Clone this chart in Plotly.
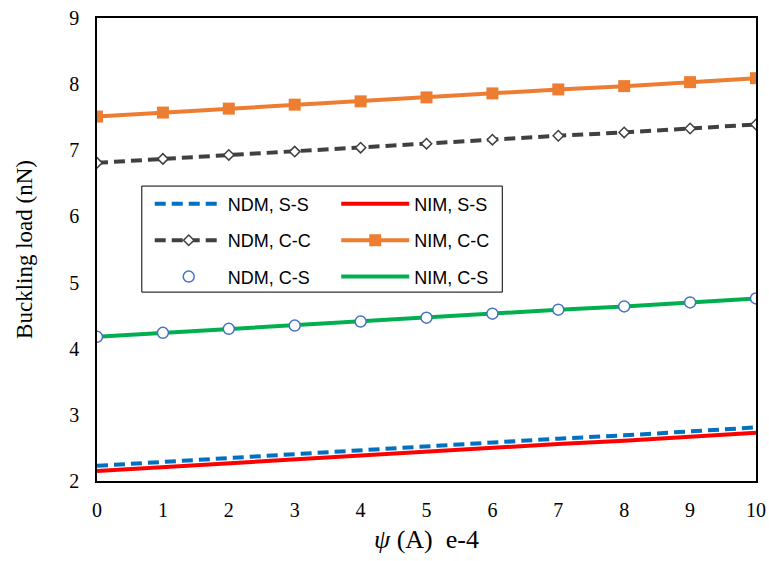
import plotly.graph_objects as go

psi = [0, 1, 2, 3, 4, 5, 6, 7, 8, 9, 10]

ndm_ss = [2.23, 2.29, 2.35, 2.40, 2.46, 2.52, 2.58, 2.64, 2.69, 2.75, 2.81]
nim_ss = [2.15, 2.21, 2.27, 2.32, 2.38, 2.44, 2.50, 2.56, 2.61, 2.67, 2.73]
ndm_cc = [6.81, 6.87, 6.93, 6.98, 7.04, 7.10, 7.16, 7.22, 7.27, 7.33, 7.39]
nim_cc = [7.51, 7.57, 7.63, 7.69, 7.74, 7.80, 7.86, 7.92, 7.97, 8.03, 8.09]
ndm_cs = [4.18, 4.24, 4.30, 4.35, 4.41, 4.47, 4.53, 4.59, 4.64, 4.70, 4.76]
nim_cs = [4.18, 4.24, 4.30, 4.35, 4.41, 4.47, 4.53, 4.59, 4.64, 4.70, 4.76]

fig = go.Figure()

fig.add_trace(go.Scatter(x=psi, y=nim_ss, mode="lines", name="NIM, S-S",
                         line=dict(color="#FF0000", width=4),
                         legend="legend2", legendgroup="a", legendrank=1))
fig.add_trace(go.Scatter(x=psi, y=ndm_ss, mode="lines", name="NDM, S-S",
                         line=dict(color="#0070C0", width=4, dash="11px,6px"),
                         legend="legend", legendgroup="b", legendrank=1))
fig.add_trace(go.Scatter(x=psi, y=nim_cs, mode="lines", name="NIM, C-S",
                         line=dict(color="#00B050", width=4),
                         legend="legend2", legendgroup="c", legendrank=3))
fig.add_trace(go.Scatter(x=psi, y=ndm_cs, mode="markers", name="NDM, C-S",
                         marker=dict(symbol="circle", size=11, color="white",
                                     line=dict(color="#4472C4", width=1.5)),
                         legend="legend", legendgroup="d", legendrank=3))
fig.add_trace(go.Scatter(x=psi, y=ndm_cc, mode="lines+markers", name="NDM, C-C",
                         line=dict(color="#404040", width=4, dash="11px,6px"),
                         marker=dict(symbol="diamond", size=8, color="white",
                                     line=dict(color="#404040", width=1.5)),
                         legend="legend", legendgroup="e", legendrank=2))
fig.add_trace(go.Scatter(x=psi, y=nim_cc, mode="lines+markers", name="NIM, C-C",
                         line=dict(color="#ED7D31", width=4),
                         marker=dict(symbol="square", size=12, color="#ED7D31"),
                         legend="legend2", legendgroup="f", legendrank=2))

legend_font = dict(family="Liberation Sans, Arial, sans-serif", size=18, color="black")

fig.update_layout(
    width=769, height=561,
    margin=dict(l=97, r=13, t=18, b=80, autoexpand=False),
    paper_bgcolor="white", plot_bgcolor="white",
    font=dict(family="Liberation Serif, Times New Roman, serif", color="black"),
    showlegend=True,
    legend=dict(x=0.08, y=0.638, xanchor="left", yanchor="top",
                font=legend_font, bgcolor="rgba(0,0,0,0)", itemwidth=68,
                tracegroupgap=10, traceorder="grouped"),
    legend2=dict(x=0.363, y=0.638, xanchor="left", yanchor="top",
                 font=legend_font, bgcolor="rgba(0,0,0,0)", itemwidth=68,
                 tracegroupgap=10, traceorder="grouped"),
    shapes=[dict(type="rect", xref="paper", yref="paper",
                 x0=0.068, x1=0.615, y0=0.408, y1=0.637,
                 line=dict(color="black", width=1), fillcolor="rgba(0,0,0,0)")],
)

fig.update_xaxes(range=[0, 10], dtick=1, showgrid=False, zeroline=False,
                 showline=True, linecolor="black", linewidth=1.5, mirror=True,
                 ticks="", ticklabelstandoff=10, automargin=False,
                 tickfont=dict(size=20),
                 title=dict(text="<i>ψ</i> (A)\u00a0\u00a0e-4", font=dict(size=26), standoff=10))
fig.update_yaxes(range=[2, 9], dtick=1, showgrid=False, zeroline=False,
                 showline=True, linecolor="black", linewidth=1.5, mirror=True,
                 ticks="", ticklabelstandoff=12, automargin=False,
                 tickfont=dict(size=20),
                 title=dict(text="Buckling load (nN)", font=dict(size=23), standoff=30))

fig.write_html("out.html")
